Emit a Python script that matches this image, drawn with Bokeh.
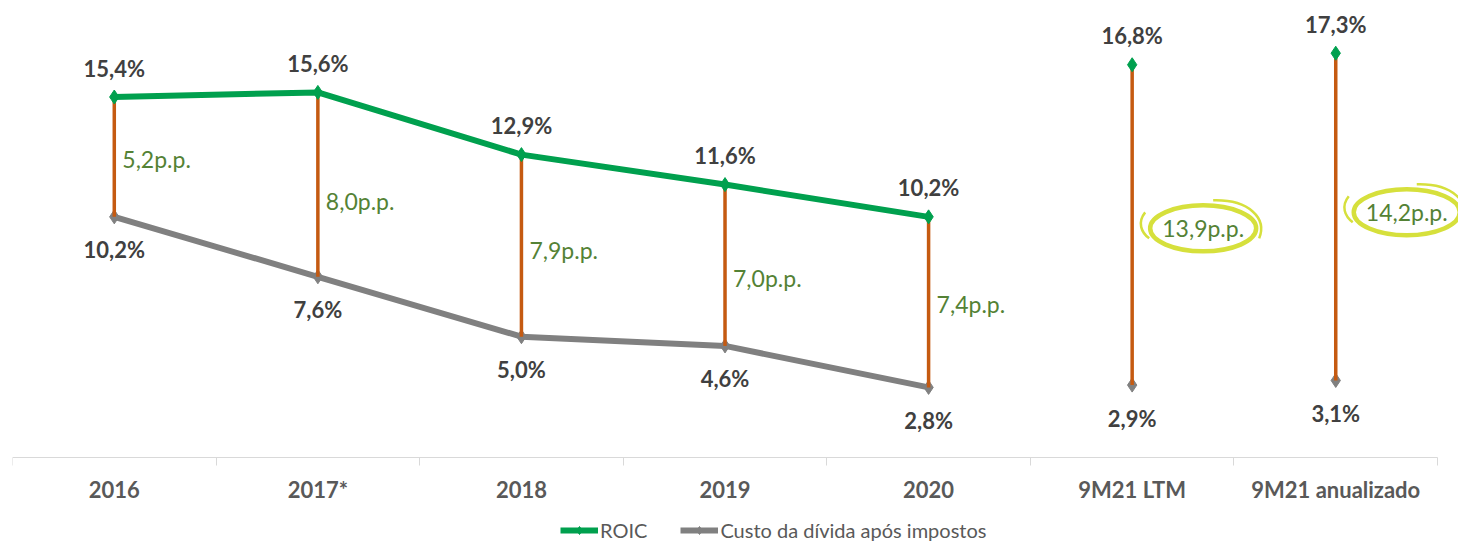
from bokeh.plotting import figure
from bokeh.models import Range1d, FixedTicker, Legend, LegendItem
from bokeh.core.properties import value
from bokeh.embed import file_html
from bokeh.resources import INLINE

categories = ["2016", "2017*", "2018", "2019", "2020", "9M21 LTM", "9M21 anualizado"]
roic = [15.4, 15.6, 12.9, 11.6, 10.2, 16.8, 17.3]
custo = [10.2, 7.6, 5.0, 4.6, 2.8, 2.9, 3.1]
spread_labels = ["5,2p.p.", "8,0p.p.", "7,9p.p.", "7,0p.p.", "7,4p.p.", "13,9p.p.", "14,2p.p."]
spread_label_y = [12.73, 10.87, 8.74, 7.53, 6.44, 9.7, 10.4]
n_connected = 5  # annual series connected by lines

GREEN = "#00A04E"
GRAY = "#808080"
ORANGE = "#C55A11"
LABEL = "#404040"
PP = "#548235"
RING = "#D6E03C"
FONT = "Lato"

X_PX = 203.57   # px per category (styling helper for offsets)
Y_PX = 23.05    # px per percentage point
AXIS_Y = -0.24  # where the category axis sits

x = list(range(len(categories)))
fmt = lambda v: f"{v:.1f}%".replace(".", ",")

p = figure(frame_width=1446, frame_height=534, x_range=Range1d(-0.5, 6.603), y_range=Range1d(-3.93, 19.24),
           output_backend="svg", toolbar_location=None, y_axis_location=None,
           min_border_left=12, min_border_right=0, min_border_top=8, min_border_bottom=0)
p.outline_line_color = None
p.xgrid.visible = False
p.ygrid.visible = False

ax = p.xaxis[0]
ax.fixed_location = AXIS_Y
ax.ticker = FixedTicker(ticks=x, minor_ticks=[i - 0.5 for i in range(len(categories) + 1)])
ax.major_label_overrides = {i: c for i, c in zip(x, categories)}
ax.bounds = (-0.5, len(categories) - 0.5)
ax.axis_line_color = "#D9D9D9"
ax.major_tick_line_color = None
ax.minor_tick_line_color = "#D9D9D9"
ax.minor_tick_out = 8
ax.minor_tick_in = 0
ax.major_label_text_font = FONT
ax.major_label_text_font_style = "bold"
ax.major_label_text_font_size = "22px"
ax.major_label_text_color = "#595959"
ax.major_label_standoff = 11

# cost series
l_custo = p.line(x[:n_connected], custo[:n_connected], line_color=GRAY, line_width=6)
m_custo = p.scatter(x, custo, marker="diamond", size=14, fill_color=GRAY, line_color=GRAY)

# spread vertical bars
p.segment(x0=x, y0=custo, x1=x, y1=roic, line_color=ORANGE, line_width=3.5)

# ROIC series
l_roic = p.line(x[:n_connected], roic[:n_connected], line_color=GREEN, line_width=6)
m_roic = p.scatter(x, roic, marker="diamond", size=14, fill_color=GREEN, line_color=GREEN)

# value labels
p.text(x=x, y=roic, text=[fmt(v) for v in roic], text_align="center", text_baseline="middle",
       y_offset=-29, text_font=value(FONT), text_font_style="bold", text_font_size="22px", text_color=LABEL)
p.text(x=x, y=custo, text=[fmt(v) for v in custo], text_align="center", text_baseline="middle",
       y_offset=33, text_font=value(FONT), text_font_style="bold", text_font_size="22px", text_color=LABEL)

# spread labels
p.text(x=x[:n_connected], y=spread_label_y[:n_connected], text=spread_labels[:n_connected],
       text_align="left", text_baseline="middle", x_offset=8,
       text_font=value(FONT), text_font_size="23px", text_color=PP)

# highlighted spreads (ring)
ring_dx = 71 / X_PX
ex = [xi + ring_dx for xi in x[n_connected:]]
ey = spread_label_y[n_connected:]
p.ellipse(x=ex, y=ey, width=106, height=46, width_units="screen", height_units="screen",
          fill_color=None, line_color=RING, line_width=4.5)
# swoosh strokes around the ring (pixel offsets from ring centre, y down)
sw1 = [(10, -28), (46, -29), (64, -10), (56, 10)]
sw2 = [(-58, -16), (-66, -6), (-62, 4), (-54, 10)]
for sw, w in ((sw1, 2.5), (sw2, 2.5)):
    p.bezier(x0=[c + sw[0][0] / X_PX for c in ex], y0=[c - sw[0][1] / Y_PX for c in ey],
             cx0=[c + sw[1][0] / X_PX for c in ex], cy0=[c - sw[1][1] / Y_PX for c in ey],
             cx1=[c + sw[2][0] / X_PX for c in ex], cy1=[c - sw[2][1] / Y_PX for c in ey],
             x1=[c + sw[3][0] / X_PX for c in ex], y1=[c - sw[3][1] / Y_PX for c in ey],
             line_color=RING, line_width=w)
p.text(x=ex, y=ey, text=spread_labels[n_connected:],
       text_align="center", text_baseline="middle",
       text_font=value(FONT), text_font_size="23px", text_color=PP)

legend = Legend(items=[LegendItem(label="ROIC", renderers=[l_roic, m_roic]),
                       LegendItem(label="Custo da dívida após impostos", renderers=[l_custo, m_custo])],
                orientation="horizontal", location=(548, 0), border_line_color=None,
                background_fill_alpha=0, label_text_font=FONT, label_text_font_size="20px",
                label_text_color="#595959", glyph_width=38, glyph_height=20, label_height=20,
                label_standoff=2, spacing=33, padding=0, margin=0)
p.add_layout(legend, "center")

open("out.html", "w").write(file_html(p, INLINE))
